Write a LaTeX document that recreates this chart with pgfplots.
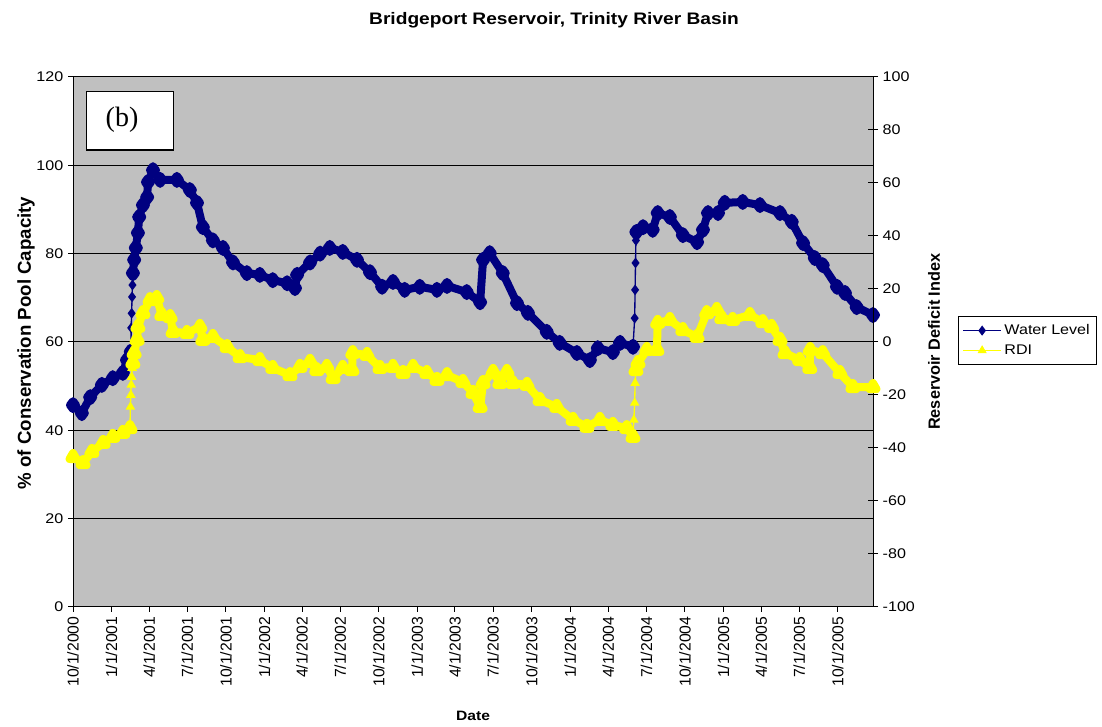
\documentclass[border=0pt]{standalone}
\usepackage{fontspec}
\setmainfont{Liberation Sans}[FakeStretch=1.15]
\newfontfamily\rotfont{Liberation Sans}
\newfontfamily\serfont{Liberation Serif}
\usepackage{pgfplots}
\pgfplotsset{compat=1.18}
\definecolor{wlnavy}{HTML}{000080}
\definecolor{rdiyel}{HTML}{FFFF00}
\definecolor{plotgray}{HTML}{C0C0C0}

% x = days since 10/1/2000; 1 px of the reference = 0.75pt
\pgfplotsset{
  thickband/.style={line width=6pt, line join=round, line cap=round, mark size=3pt},
  thinjump/.style={line width=1pt, mark size=3.2pt},
}

\begin{document}
\begin{tikzpicture}
  \useasboundingbox (0,0) rectangle (826.5pt,545.25pt);

  \begin{axis}[
      at={(54.75pt,90pt)}, anchor=south west,
      scale only axis, width=600pt, height=397.5pt,
      xmin=0, xmax=1910, ymin=0, ymax=120,
      axis background/.style={fill=plotgray},
      xtick={0,92,182,273,365,457,547,638,730,822,912,1003,1095,1187,1278,1369,1461,1553,1643,1734,1826},
      xticklabels={10/1/2000,1/1/2001,4/1/2001,7/1/2001,10/1/2001,1/1/2002,4/1/2002,7/1/2002,10/1/2002,1/1/2003,4/1/2003,7/1/2003,10/1/2003,1/1/2004,4/1/2004,7/1/2004,10/1/2004,1/1/2005,4/1/2005,7/1/2005,10/1/2005},
      xticklabel style={rotate=90, anchor=east, font=\rotfont\fontsize{11.8}{13}\selectfont},
      ytick={0,20,...,120},
      yticklabel style={font=\fontsize{10.5}{12}\selectfont},
      /pgf/number format/assume math mode=true,
      xtick pos=bottom, ytick pos=left, tick align=outside,
      major tick length=3.75pt,
      ymajorgrids, major grid style={black, line width=0.75pt},
      axis line style={black, line width=0.75pt},
      tick style={black, line width=0.75pt},
    ]
    % Water Level
    \addplot[wlnavy, thickband, mark=diamond*] coordinates {
      (0,45.7)(21,43.9)(41,47.5)(69,50.3)(95,51.8)(119,53.0)(129,55.9)(138,57.8)
    };
    \addplot[wlnavy, thinjump, mark=diamond*] coordinates {
      (138,57.8)(139,63.2)(140,66.5)(141,70.2)(142,72.9)(143,75.6)
    };
    \addplot[wlnavy, thickband, mark=diamond*] coordinates {
      (143,75.6)(146,78.6)(150,81.3)(155,84.7)(158,88.3)(167,91.0)(177,92.8)(179,96.2)
      (191,98.9)(208,96.7)(248,96.7)(279,94.4)(296,91.5)(310,86.0)(334,83.0)(358,81.3)
      (382,78.0)(415,75.6)(446,75.2)(477,74.0)(511,73.3)(530,72.2)(535,75.2)(566,78.0)
      (590,80.0)(613,81.3)(644,80.4)(678,78.6)(709,75.8)(738,72.5)(764,73.6)(792,71.8)
      (828,72.5)(869,71.8)(893,72.7)(940,71.3)(972,69.0)(979,78.6)(995,80.1)(1026,75.6)
      (1060,68.8)(1086,66.6)(1131,62.3)(1162,59.8)(1203,57.5)(1234,55.9)(1253,58.6)
      (1289,57.7)(1306,59.8)(1337,58.9)
    };
    \addplot[wlnavy, thinjump, mark=diamond*] coordinates {
      (1337,58.9)(1341,65.4)(1342,71.8)(1343,77.9)(1344,83.0)(1345,84.9)
    };
    \addplot[wlnavy, thickband, mark=diamond*] coordinates {
      (1345,84.9)(1361,86.0)(1384,85.4)(1396,89.2)(1425,88.3)(1456,84.2)(1490,82.6)
      (1504,85.4)(1516,89.2)(1540,89.2)(1556,91.5)(1599,91.7)(1640,91.0)(1688,89.2)
      (1716,87.2)(1743,82.4)(1771,79.0)(1790,77.4)(1824,72.5)(1843,71.1)(1871,67.9)(1910,66.1)
    };
  \end{axis}

  \begin{axis}[
      at={(54.75pt,90pt)}, anchor=south west,
      scale only axis, width=600pt, height=397.5pt,
      xmin=0, xmax=1910, ymin=-100, ymax=100,
      axis y line*=right, axis x line=none,
      ytick={-100,-80,...,100},
      yticklabel style={font=\fontsize{10.5}{12}\selectfont},
      /pgf/number format/assume math mode=true,
      tick align=center, major tick length=7.5pt,
      axis line style={black, line width=0.75pt},
      tick style={black, line width=0.75pt},
      legend style={at={(1.10625,0.549)}, anchor=north west, draw=black,
        line width=0.75pt, fill=white, font=\fontsize{10.5}{12.5}\selectfont,
        inner xsep=3pt, inner ysep=4pt, row sep=2pt},
      legend cell align=left,
      legend image code/.code={
        \draw[#1, mark repeat=2, mark phase=2] plot coordinates {(0cm,0cm)(0.5cm,0cm)(1cm,0cm)};},
    ]
    \addlegendimage{wlnavy, line width=1pt, mark=diamond*, mark size=3pt}
    \addlegendentry{Water Level}
    \addlegendimage{rdiyel, line width=1pt, mark=triangle*, mark size=3pt}
    \addlegendentry{RDI}
    % RDI
    \addplot[rdiyel, thickband, mark=triangle*, forget plot] coordinates {
      (0,-43.4)(24,-45.7)(45,-41.5)(72,-38.1)(95,-35.8)(119,-34.3)(136,-32.5)
    };
    \addplot[rdiyel, thinjump, mark=triangle*, forget plot] coordinates {
      (136,-32.5)(137,-24.5)(138,-20.0)(139,-16.2)(140,-13.2)(141,-9.8)(143,-7.9)
    };
    \addplot[rdiyel, thickband, mark=triangle*, forget plot] coordinates {
      (143,-7.9)(146,-4.2)(153,0.8)(155,5.7)(167,10.9)(184,15.8)(200,16.6)(212,10.2)
      (232,9.4)(239,3.8)(272,3.4)(303,5.7)(310,0.8)(334,1.9)(368,-1.9)(399,-5.7)
      (446,-6.8)(477,-9.8)(518,-12.5)(542,-9.4)(566,-7.5)(582,-10.6)(606,-9.4)
      (621,-13.6)(644,-9.8)(666,-10.6)(668,-4.2)(702,-4.9)(733,-9.8)(764,-9.4)
      (788,-11.7)(812,-9.4)(845,-11.7)(869,-14.3)(893,-12.5)(931,-15.1)(955,-19.2)
      (972,-24.5)(979,-15.5)(1003,-11.3)(1019,-15.5)(1036,-11.3)(1050,-15.5)
      (1084,-16.2)(1115,-21.9)(1155,-24.5)(1194,-29.4)(1227,-32.0)(1258,-29.4)
      (1289,-31.3)(1322,-32.5)(1337,-35.8)
    };
    \addplot[rdiyel, thinjump, mark=triangle*, forget plot] coordinates {
      (1337,-35.8)(1339,-29.4)(1341,-23.0)(1342,-15.5)(1344,-10.6)
    };
    \addplot[rdiyel, thickband, mark=triangle*, forget plot] coordinates {
      (1344,-10.6)(1349,-7.9)(1370,-3.0)(1394,-3.0)(1396,7.2)(1425,8.3)(1456,4.5)
      (1490,1.9)(1513,10.9)(1537,12.1)(1549,9.0)(1575,8.3)(1616,10.2)(1647,7.5)
      (1668,5.7)(1688,0.8)(1700,-4.2)(1735,-6.8)(1759,-9.8)(1760,-3.0)(1790,-4.2)
      (1831,-11.7)(1862,-17.0)(1910,-17.0)
    };
  \end{axis}

  % titles and labels
  \node[font=\bfseries\fontsize{12.5}{15}\selectfont] at (415.5pt,530.25pt)
    {Bridgeport Reservoir, Trinity River Basin};
  \node[rotate=90, font=\rotfont\bfseries\fontsize{14}{16}\selectfont] at (19.5pt,288pt)
    {\% of Conservation Pool Capacity};
  \node[rotate=90, font=\rotfont\bfseries\fontsize{12.2}{14}\selectfont] at (700.5pt,289pt)
    {Reservoir Deficit Index};
  \node[font=\bfseries\fontsize{10.2}{12}\selectfont] at (354.75pt,8.25pt) {Date};

  % panel tag
  \draw[black, line width=1.2pt, fill=white] (65pt,432.75pt) rectangle (130pt,476.5pt);
  \node[font=\serfont\fontsize{21}{24}\selectfont] at (91.5pt,455.25pt) {(b)};
\end{tikzpicture}
\end{document}
